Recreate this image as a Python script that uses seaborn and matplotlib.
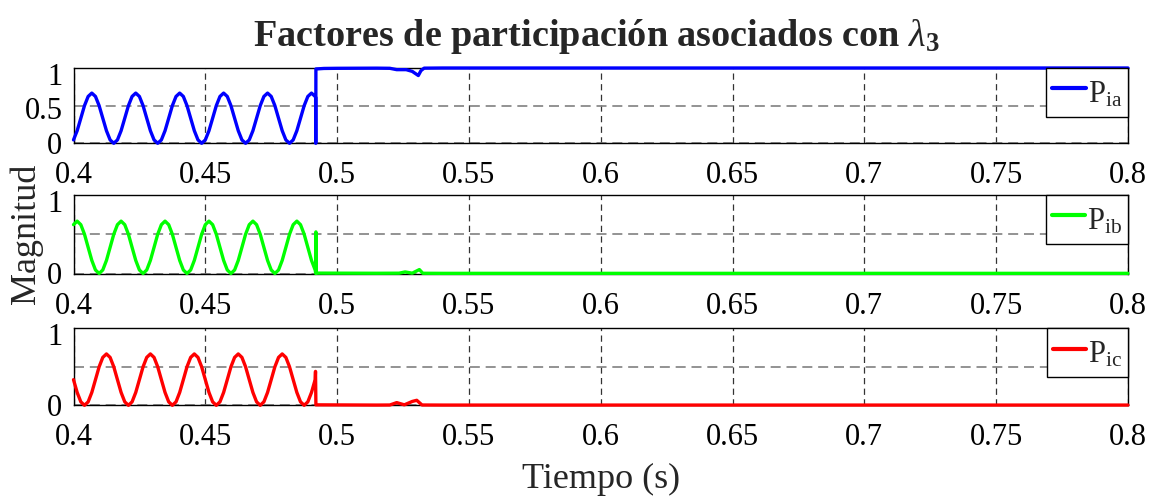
import numpy as np
import pandas as pd
import matplotlib
matplotlib.use("Agg")
import matplotlib.pyplot as plt
import matplotlib.transforms as mtransforms
import seaborn as sns

# ---- data -----------------------------------------------------------------
# sampling instants of the oscillating part (0.4 s .. 0.49167 s, 1/720 s step)
t_wave = np.linspace(0.4, 0.4 + 66 / 720, 67)

p_ia_wave = [0.045, 0.167, 0.333, 0.5, 0.622,
             0.667, 0.622, 0.5, 0.333, 0.167, 0.045, 0, 0.045, 0.167, 0.333, 0.5, 0.622,
             0.667, 0.622, 0.5, 0.333, 0.167, 0.045, 0, 0.045, 0.167, 0.333, 0.5, 0.622,
             0.667, 0.622, 0.5, 0.333, 0.167, 0.045, 0, 0.045, 0.167, 0.333, 0.5, 0.622,
             0.667, 0.622, 0.5, 0.333, 0.167, 0.045, 0, 0.045, 0.167, 0.333, 0.5, 0.622,
             0.667, 0.622, 0.5, 0.333, 0.167, 0.045, 0, 0.045, 0.167, 0.333, 0.5, 0.622,
             0.667, 0.622]

p_ib_wave = [0.622,
             0.667, 0.622, 0.5, 0.333, 0.167, 0.045, 0, 0.045, 0.167, 0.333, 0.5, 0.622,
             0.667, 0.622, 0.5, 0.333, 0.167, 0.045, 0, 0.045, 0.167, 0.333, 0.5, 0.622,
             0.667, 0.622, 0.5, 0.333, 0.167, 0.045, 0, 0.045, 0.167, 0.333, 0.5, 0.622,
             0.667, 0.622, 0.5, 0.333, 0.167, 0.045, 0, 0.045, 0.167, 0.333, 0.5, 0.622,
             0.667, 0.622, 0.5, 0.333, 0.167, 0.045, 0, 0.045, 0.167, 0.333, 0.5, 0.622,
             0.667, 0.622, 0.5, 0.333, 0.167, 0.045]

p_ic_wave = [0.333, 0.167, 0.045, 0, 0.045, 0.167, 0.333, 0.5, 0.622,
             0.667, 0.622, 0.5, 0.333, 0.167, 0.045, 0, 0.045, 0.167, 0.333, 0.5, 0.622,
             0.667, 0.622, 0.5, 0.333, 0.167, 0.045, 0, 0.045, 0.167, 0.333, 0.5, 0.622,
             0.667, 0.622, 0.5, 0.333, 0.167, 0.045, 0, 0.045, 0.167, 0.333, 0.5, 0.622,
             0.667, 0.622, 0.5, 0.333, 0.167, 0.045, 0, 0.045, 0.167, 0.333, 0.5, 0.622,
             0.667, 0.622, 0.5, 0.333, 0.167, 0.045, 0, 0.045, 0.167, 0.333]

# behaviour after the switching event
p_ia_tail_t = [0.49185, 0.4919, 0.49195, 0.495, 0.500, 0.515, 0.520, 0.5226, 0.5262,
               0.5285, 0.5308, 0.5318, 0.5330, 0.540, 0.800]
p_ia_tail_v = [0.61, 0.0, 0.987, 0.994, 0.996, 0.998, 0.996, 0.978, 0.978,
               0.955, 0.900, 0.965, 0.998, 1.0, 1.0]

p_ib_tail_t = [0.4919, 0.49195, 0.49205, 0.515, 0.5235, 0.5258, 0.5285, 0.5312,
               0.5325, 0.540, 0.800]
p_ib_tail_v = [0.0, 0.53, 0.005, 0.003, 0.004, 0.02, 0.004, 0.05,
               0.003, 0.002, 0.002]

p_ic_tail_t = [0.4918, 0.49195, 0.515, 0.5200, 0.5226, 0.5255, 0.5285, 0.5302,
               0.5322, 0.540, 0.800]
p_ic_tail_v = [0.44, 0.006, 0.003, 0.004, 0.035, 0.006, 0.05, 0.065,
               0.004, 0.003, 0.003]

series_labels = [r"P$_{\mathrm{ia}}$", r"P$_{\mathrm{ib}}$", r"P$_{\mathrm{ic}}$"]
series_colors = ["#0000FF", "#00FF00", "#FF0000"]

x_ticks = [0.4, 0.45, 0.5, 0.55, 0.6, 0.65, 0.7, 0.75, 0.8]
x_tick_labels = ["0.4", "0.45", "0.5", "0.55", "0.6", "0.65", "0.7", "0.75", "0.8"]
y_ticks = [0, 0.5, 1]
y_tick_labels_top = ["0", "0.5", "1"]
y_tick_labels_rest = ["0", "", "1"]

# ---- style ----------------------------------------------------------------
sns.set_style("white")
plt.rcParams.update({
    "font.family": ["Liberation Serif", "DejaVu Serif"],
    "mathtext.fontset": "custom",
    "mathtext.rm": "Liberation Serif",
    "mathtext.it": "Liberation Serif:italic",
    "mathtext.bf": "Liberation Serif:bold",
    "axes.edgecolor": "black",
    "axes.linewidth": 1.0,
})

fig = plt.figure(figsize=(11.58, 4.97), dpi=100)
H = 497.0
left, width = 73.5 / 1158, (1128 - 73.5) / 1158
boxes = [(68.0, 143.3), (195.0, 273.5), (328.3, 405.3)]

waves = [p_ia_wave, p_ib_wave, p_ic_wave]
tails_t = [p_ia_tail_t, p_ib_tail_t, p_ic_tail_t]
tails_v = [p_ia_tail_v, p_ib_tail_v, p_ic_tail_v]

# small downward nudges (in pixels) of the y tick labels, MATLAB-style
ylabel_nudge_px = [0, 2, 6]

axes = []
for i, (top, bot) in enumerate(boxes):
    ax = fig.add_axes([left, 1 - bot / H, width, (bot - top) / H])
    axes.append(ax)
    df = pd.DataFrame({
        "t": np.concatenate([t_wave, tails_t[i]]),
        "v": np.concatenate([waves[i], tails_v[i]]),
    })
    sns.lineplot(data=df, x="t", y="v", ax=ax, color=series_colors[i],
                 linewidth=2.4, label=series_labels[i], sort=False,
                 estimator=None, zorder=3, clip_on=False)
    ax.set_xlim(0.4, 0.8)
    ax.set_ylim(0, 1)
    ax.set_xticks(x_ticks)
    ax.set_xticklabels(x_tick_labels)
    ax.set_yticks(y_ticks)
    ax.set_yticklabels(y_tick_labels_top if i == 0 else y_tick_labels_rest)
    ax.set_axisbelow(True)
    ax.grid(True, axis="x", linestyle=(0, (5, 3.5)), color="#333333", linewidth=0.9)
    ax.grid(True, axis="y", linestyle=(0, (6, 3.5)), color="#808080", linewidth=1.2)
    ax.tick_params(axis="both", direction="in", length=4, width=0.8,
                   labelsize=22, colors="black")
    ax.tick_params(axis="x", pad=13)
    ax.tick_params(axis="y", pad=8)
    for tick, dy in zip(ax.yaxis.get_major_ticks(), ylabel_nudge_px):
        off = mtransforms.ScaledTranslation(0, -dy / 100.0, fig.dpi_scale_trans)
        tick.label1.set_transform(tick.label1.get_transform() + off)
    for s in ax.spines.values():
        s.set_visible(True)
        s.set_color("black")
        s.set_linewidth(1.0)
    ax.set_xlabel("")
    ax.set_ylabel("")
    leg = ax.legend(loc="upper right", borderaxespad=0, frameon=True,
                    fancybox=False, edgecolor="black", framealpha=1,
                    fontsize=22, handlelength=1.1, handletextpad=0.05,
                    handleheight=1.45, borderpad=0.2)
    leg.get_frame().set_linewidth(1.0)
    for ln in leg.get_lines():
        ln.set_linewidth(3.0)

axes[1].set_ylabel("Magnitud", fontsize=26, labelpad=3)

fig.text(0.5152, 1 - 46 / H,
         r"Factores de participación asociados con $\lambda_{\mathbf{3}}$",
         ha="center", va="baseline", fontsize=27.5, fontweight="bold")
fig.text(0.5187, 1 - 488 / H, "Tiempo (s)", ha="center", va="baseline",
         fontsize=26)

fig.savefig("out.png", dpi=100, facecolor="white")
